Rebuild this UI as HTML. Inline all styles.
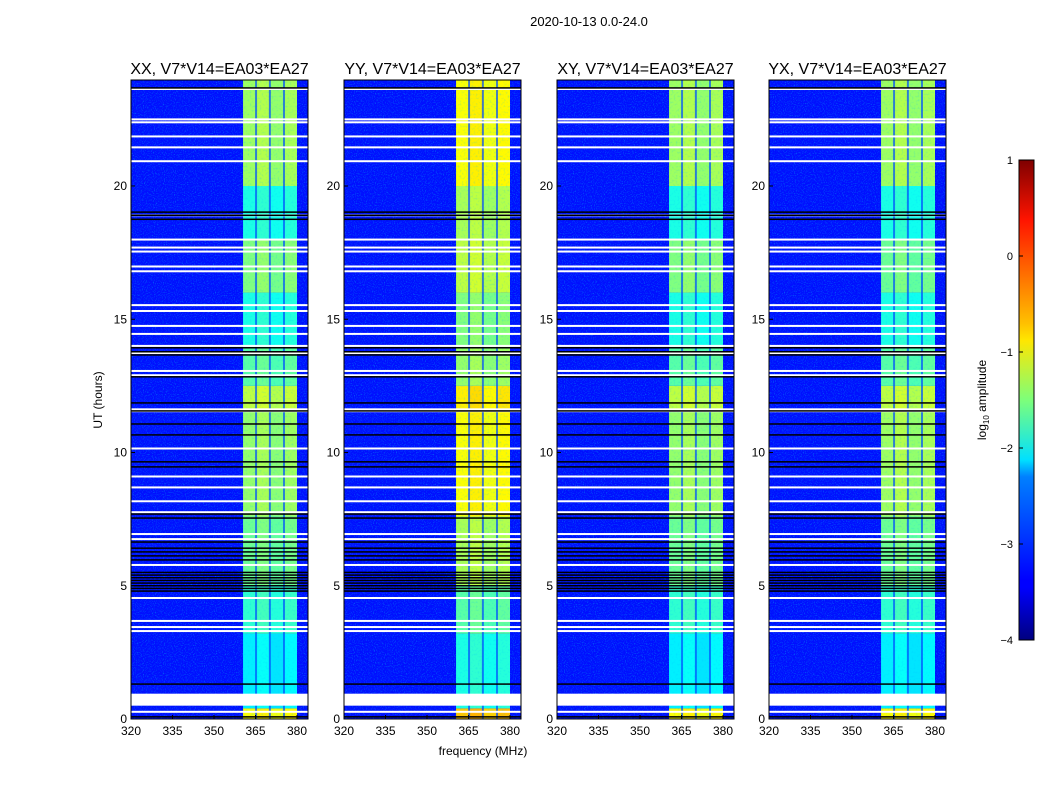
<!DOCTYPE html>
<html><head><meta charset="utf-8"><style>
body{margin:0;background:#fff;width:1050px;height:800px;overflow:hidden}
svg{font-family:"Liberation Sans",sans-serif}
</style></head><body>
<svg id="fig" width="1050" height="800" xmlns="http://www.w3.org/2000/svg">
<defs>
<filter id="noise" x="0" y="0" width="100%" height="100%">
<feTurbulence type="fractalNoise" baseFrequency="0.9" numOctaves="1" seed="3"/>
<feColorMatrix type="matrix" values="0 0 0 0 0  0.6 0 0 0 0.05  0 0 0 0 0.9  0 0 0 2.2 -1.1"/>
</filter>
<filter id="noise2" x="0" y="0" width="100%" height="100%">
<feTurbulence type="fractalNoise" baseFrequency="0.5" numOctaves="2" seed="7"/>
<feColorMatrix type="matrix" values="0 0 0 0 0  0 0 0 0 0.5  0 0 0 0 1  0 0 0 2 -1.05"/>
</filter>
<linearGradient id="jet" x1="0" y1="1" x2="0" y2="0">
<stop offset="0" stop-color="#00007f"/><stop offset="0.11" stop-color="#0000ff"/>
<stop offset="0.125" stop-color="#0000ff"/><stop offset="0.34" stop-color="#0080ff"/>
<stop offset="0.375" stop-color="#00e0ff"/><stop offset="0.5" stop-color="#7dff7a"/>
<stop offset="0.625" stop-color="#ffe600"/><stop offset="0.66" stop-color="#ffc000"/>
<stop offset="0.875" stop-color="#ff1400"/><stop offset="1" stop-color="#7f0000"/>
</linearGradient>
</defs>
<text x="589" y="26" font-size="13" text-anchor="middle">2020-10-13 0.0-24.0</text>
<text x="483" y="755" font-size="12" text-anchor="middle">frequency (MHz)</text>
<text transform="translate(102,400) rotate(-90)" font-size="12" text-anchor="middle">UT (hours)</text>
<g id="panels"></g>
<g id="cbar">
<rect x="1019" y="160" width="15" height="480" fill="url(#jet)" stroke="#000" stroke-width="1"/>
<text transform="translate(986,400) rotate(-90)" font-size="12" text-anchor="middle">log<tspan font-size="8" dy="3">10</tspan><tspan dy="-3"> amplitude</tspan></text>
</g>
</svg>
<script>
const panelTitles=["XX, V7*V14=EA03*EA27","YY, V7*V14=EA03*EA27","XY, V7*V14=EA03*EA27","YX, V7*V14=EA03*EA27"];
const xTicks=[320,335,350,365,380];
const yTicks=[0,5,10,15,20];
const cbTicks=[1,0,-1,-2,-3,-4];
const bandEdges=[360.5,365.2,370.2,375.3,380];
const segStart=[0,0.4,3.2,5,7.6,11.6,12.5,14,16,18,20];
const segEnd=[0.4,3.2,5,7.6,11.6,12.5,14,16,18,20,24];
const levelXX=[-0.9,-2.2,-1.9,-1.6,-1.4,-1.2,-1.7,-2.0,-1.5,-2.0,-1.35];
const levelYY=[-0.6,-2.0,-1.7,-1.3,-0.9,-0.8,-1.4,-1.5,-1.2,-1.3,-0.9];
const levelXY=[-0.9,-2.2,-1.9,-1.6,-1.4,-1.2,-1.7,-2.0,-1.5,-2.0,-1.35];
const levelYX=[-0.9,-2.2,-1.9,-1.6,-1.35,-1.2,-1.7,-2.0,-1.6,-2.0,-1.35];
const subbandOffset=[0,0.1,-0.05,0.05];
const whiteLines=[23.64,22.5,22.39,21.86,21.45,20.93,18.9,17.99,17.69,17.54,16.98,16.8,15.53,15.31,14.75,14.45,14.0,13.73,13.06,12.9,11.62,11.55,10.15,9.1,8.69,8.17,7.76,6.94,6.75,5.78,4.54,3.68,3.45,3.3,0.55,0.7,0.8,0.9,0.27];
const blackLines=[23.68,19.02,18.9,18.75,13.93,13.78,13.66,12.84,11.86,11.56,11.07,10.66,9.65,9.46,7.69,7.54,6.64,6.41,6.27,6.12,5.97,5.5,5.4,5.3,5.2,5.1,5.0,4.9,4.8,1.31,0.08];
const levels=[levelXX,levelYY,levelXY,levelYX];
const lefts=[131,344,557,769];
const PW=177;
function xs(p,f){return lefts[p]+(f-320)*41.5/15;}
function ys(h){return 719-h*26.65;}
function jet(v){let t=(v+4)/5;t=Math.max(0,Math.min(1,t));
 const r=Math.max(0,Math.min(1,1.5-Math.abs(4*t-3))),g=Math.max(0,Math.min(1,1.5-Math.abs(4*t-2))),b=Math.max(0,Math.min(1,1.5-Math.abs(4*t-1)));
 return `rgb(${Math.round(r*255)},${Math.round(g*255)},${Math.round(b*255)})`;}
const NS="http://www.w3.org/2000/svg";
const G=document.getElementById('panels');
function mk(tag,at,parent){const e=document.createElementNS(NS,tag);for(const k in at)e.setAttribute(k,at[k]);parent.appendChild(e);return e;}
for(let p=0;p<4;p++){
 const g=mk('g',{},G);
 
 
 const L=lefts[p];
 const bg=mk('rect',{x:L,y:80,width:PW,height:639,fill:jet(-3.3)},g);
 
 
 mk('rect',{x:L,y:80,width:PW,height:639,filter:'url(#noise)',opacity:0.8},g);
 for(let s=0;s<segStart.length;s++){
  for(let c=0;c<4;c++){
   const r=mk('rect',{x:xs(p,bandEdges[c]),y:ys(segEnd[s]),width:xs(p,bandEdges[c+1])-xs(p,bandEdges[c]),height:ys(segStart[s])-ys(segEnd[s]),fill:jet(levels[p][s]+subbandOffset[c])},g);
   
   
  }
 }
 mk('rect',{x:xs(p,bandEdges[0]),y:80,width:xs(p,bandEdges[4])-xs(p,bandEdges[0]),height:639,filter:'url(#noise2)',opacity:0.35},g);
 for(let c=1;c<4;c++){mk('rect',{x:xs(p,bandEdges[c])-1,y:80,width:2,height:639,fill:jet(-3.0),opacity:0.7},g);}
 whiteLines.forEach(h=>{const l=mk('rect',{x:L,y:ys(h)-1,width:PW,height:2,fill:'#fff'},g);
  
  });
 mk('rect',{x:L,y:ys(0.95),width:PW,height:ys(0.5)-ys(0.95),fill:'#fff'},g);
 blackLines.forEach(h=>{const l=mk('rect',{x:L,y:ys(h)-0.75,width:PW,height:1.5,fill:'#000'},g);
  
  });
 mk('rect',{x:L,y:80,width:PW,height:639,fill:'none',stroke:'#000','stroke-width':1},g);
 const t=mk('text',{x:L+PW/2,y:74,'font-size':16,'text-anchor':'middle'},g);t.textContent=panelTitles[p];
 
 
 xTicks.forEach(f=>{const x=xs(p,f);mk('line',{x1:x,x2:x,y1:719,y2:715,stroke:'#000'},g);
  const tt=mk('text',{x:x,y:735,'font-size':12,'text-anchor':'middle'},g);tt.textContent=f;
  
  });
 yTicks.forEach(h=>{const y=ys(h);mk('line',{x1:L,x2:L+4,y1:y,y2:y,stroke:'#000'},g);
  const tt=mk('text',{x:L-4,y:y+4,'font-size':12,'text-anchor':'end'},g);tt.textContent=h;
  
  });
}
const cb=document.getElementById('cbar');
cbTicks.forEach(v=>{const y=160+(1-v)*96;
 const tt=mk('text',{x:1013,y:y+4,'font-size':11,'text-anchor':'end'},cb);tt.textContent=(v<0?'\u2212'+(-v):v);
 
 
 mk('line',{x1:1019,x2:1023,y1:y,y2:y,stroke:'#000'},cb);});
</script>
</body></html>
